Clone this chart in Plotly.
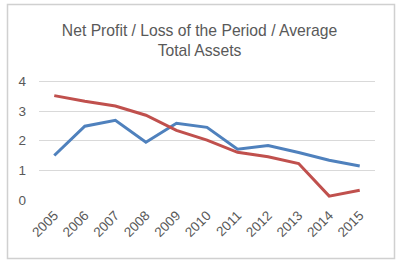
import plotly.graph_objects as go

years = ["2005", "2006", "2007", "2008", "2009", "2010", "2011", "2012", "2013", "2014", "2015"]
series_blue = [1.50, 2.49, 2.69, 1.95, 2.59, 2.45, 1.71, 1.84, 1.60, 1.34, 1.15]
series_red = [3.52, 3.33, 3.17, 2.86, 2.35, 2.02, 1.61, 1.46, 1.23, 0.13, 0.33]
y_ticks = [0, 1, 2, 3, 4]

fig = go.Figure()
fig.add_trace(go.Scatter(x=years, y=series_blue, mode="lines",
                         line=dict(color="#4F81BD", width=3), showlegend=False))
fig.add_trace(go.Scatter(x=years, y=series_red, mode="lines",
                         line=dict(color="#C0504D", width=3), showlegend=False))

font_family = "Liberation Sans, Arial, sans-serif"
fig.update_layout(
    width=399, height=264,
    margin=dict(l=39, r=24, t=74, b=64),
    paper_bgcolor="white", plot_bgcolor="white",
    title=dict(text="Net Profit / Loss of the Period / Average<br>Total Assets",
               x=0.5, xref="container", xanchor="center",
               y=1 - 36 / 264, yref="container", yanchor="middle",
               font=dict(family=font_family, size=15.7, color="#595959")),
    xaxis=dict(type="category", range=[-0.5, 10.5], tickangle=-45,
               showgrid=False, showline=False, zeroline=False, ticks="",
               ticklabelstandoff=4,
               tickfont=dict(family=font_family, size=13.5, color="#595959")),
    yaxis=dict(range=[0, 4.25], tickvals=y_ticks, showgrid=True, gridcolor="#D9D9D9",
               gridwidth=1, zeroline=False, showline=False, ticks="",
               ticklabelstandoff=12,
               tickfont=dict(family=font_family, size=13.5, color="#595959")),
    shapes=[dict(type="rect", xref="paper", yref="paper",
                 x0=(7.5 - 39) / 336, x1=(394.5 - 39) / 336,
                 y0=(200 - 258.5) / 126, y1=(200 - 4.5) / 126,
                 line=dict(color="#D0D0D0", width=1.5), fillcolor="rgba(0,0,0,0)",
                 layer="above")],
)

fig.write_html("out.html", config={"displayModeBar": False},
               post_script="document.body.style.margin='0';")
